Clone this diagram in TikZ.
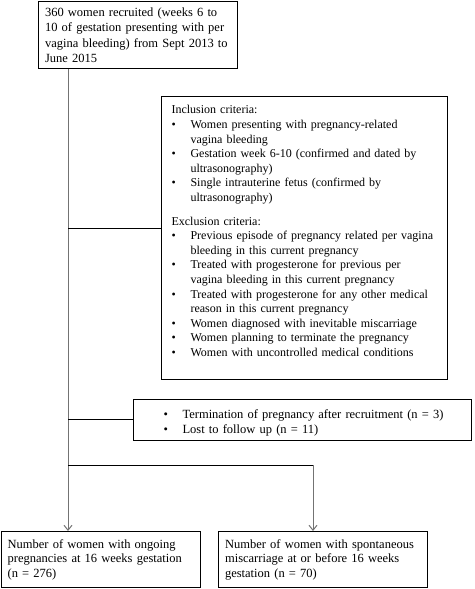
\documentclass[tikz,border=0pt]{standalone}
\usepackage{fontspec}
\setmainfont{Liberation Serif}
\usetikzlibrary{positioning,calc,arrows.meta}
\setlength{\parindent}{0pt}
% bullet line and its continuation line
\newcommand{\critem}[2][0pt]{\par\noindent\hspace*{#1}\makebox[19pt][l]{\textbullet}#2}
\newcommand{\critnext}[2][0pt]{\par\noindent\hspace*{\dimexpr#1+19pt\relax}#2}

\begin{document}
\begin{tikzpicture}[x=1pt, y=-1pt,
  box/.style={draw, line width=1.1pt, anchor=north west,
    inner xsep=6.5pt, inner ysep=4pt,
    font=\fontsize{12.5}{14.4}\selectfont\raggedright},
  listbox/.style={box, inner xsep=10pt,
    font=\fontsize{12}{14.6}\selectfont\raggedright},
  trunk/.style={black!55, line width=1pt},
  branch/.style={black, line width=1pt},
  tip/.style={-{Straight Barb[length=5pt,width=8pt]}}]
  \useasboundingbox (0,0) rectangle (474,589);

  % boxes
  \node[box, text width=186pt, minimum height=67pt, font=\fontsize{12.5}{15.5}\selectfont\raggedright] (recruit) at (38,1)
    {360 women recruited (weeks 6 to\newline 10 of gestation presenting with per\newline vagina bleeding) from Sept 2013 to\newline June 2015};
  \node[listbox, text width=266pt, inner ysep=5pt, minimum height=283pt] (criteria) at (161,96)
    {Inclusion criteria:
     \critem{Women presenting with pregnancy-related}
     \critnext{vagina bleeding}
     \critem{Gestation week 6-10 (confirmed and dated by}
     \critnext{ultrasonography)}
     \critem{Single intrauterine fetus (confirmed by}
     \critnext{ultrasonography)}
     \par\vskip 9pt
     Exclusion criteria:
     \critem{Previous episode of pregnancy related per vagina}
     \critnext{bleeding in this current pregnancy}
     \critem{Treated with progesterone for previous per}
     \critnext{vagina bleeding in this current pregnancy}
     \critem{Treated with progesterone for any other medical}
     \critnext{reason in this current pregnancy}
     \critem{Women diagnosed with inevitable miscarriage}
     \critem{Women planning to terminate the pregnancy}
     \critem{Women with uncontrolled medical conditions}
     \par\kern 14pt};
  \node[listbox, text width=318pt, minimum height=38pt, font=\fontsize{12.5}{15}\selectfont\raggedright] (lost) at (133,399)
    {\critem[20pt]{Termination of pregnancy after recruitment (n = 3)}
     \critem[20pt]{Lost to follow up (n = 11)}};
  \node[box, text width=186pt, minimum height=56pt] (ongoing) at (0.6,531)
    {Number of women with ongoing\newline pregnancies at 16 weeks gestation\newline (n = 276)};
  \node[box, text width=196pt, minimum height=56pt] (miscarriage) at (218,531)
    {Number of women with spontaneous\newline miscarriage at or before 16 weeks\newline gestation (n = 70)};

  % connectors
  \coordinate (split) at (68,465);
  \coordinate (misc) at (313,465);
  \coordinate (exclin) at ($(criteria.north west)+(0,132)$);
  \draw[trunk] (split |- recruit.south) -- (split);
  \draw[trunk, tip] (split) -- (split |- ongoing.north);
  \draw[branch] (split |- exclin) -- (exclin);
  \draw[branch] (split |- lost.west) -- (lost.west);
  \draw[branch] (split) -- (misc);
  \draw[trunk, tip] (misc) -- (misc |- miscarriage.north);
\end{tikzpicture}
\end{document}
